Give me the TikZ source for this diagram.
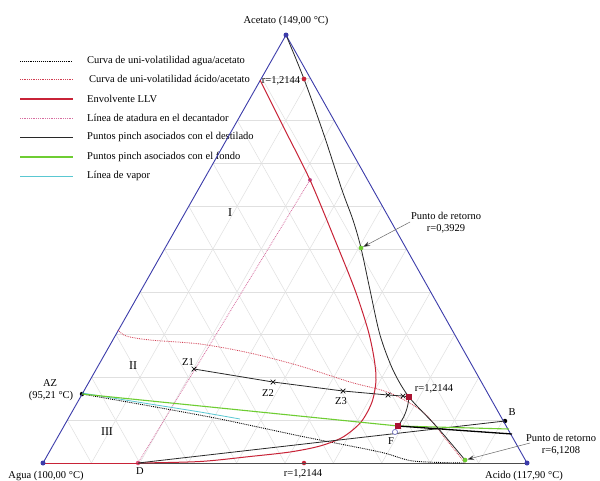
\documentclass[tikz,border=0pt]{standalone}
\usepackage{fontspec}
\setmainfont{Liberation Serif}
\usetikzlibrary{calc,arrows.meta,shapes.misc}
\definecolor{sideblue}{RGB}{60,60,170}
\definecolor{envred}{RGB}{200,35,55}
\definecolor{acidred}{RGB}{210,60,80}
\definecolor{tiepink}{RGB}{215,110,160}
\definecolor{pinchgreen}{RGB}{110,205,50}
\definecolor{vapcyan}{RGB}{90,200,210}
\definecolor{gridgray}{RGB}{224,224,224}
\definecolor{sqred}{RGB}{170,20,50}
\definecolor{darkline}{RGB}{40,40,40}
\begin{document}
\begin{tikzpicture}[x=1pt,y=-1pt,
  font=\fontsize{10.5}{12}\selectfont,
  gridline/.style={draw=gridgray,line width=0.5pt},
  sideline/.style={draw=sideblue,line width=0.9pt},
  baseline/.style={draw=black!70,line width=0.9pt},
  envelope/.style={draw=envred,line width=1pt},
  legenv/.style={draw=envred,line width=1.6pt},
  acidcurve/.style={draw=acidred,densely dotted,line width=0.8pt},
  watercurve/.style={draw=black,densely dotted,line width=0.9pt},
  tieline/.style={draw=tiepink,densely dotted,line width=0.8pt},
  distline/.style={draw=darkline,line width=0.8pt},
  thickline/.style={draw=black,line width=1.3pt},
  greenline/.style={draw=pinchgreen,line width=1.1pt},
  leggreen/.style={draw=pinchgreen,line width=1.5pt},
  vaporline/.style={draw=vapcyan,line width=0.8pt},
  vdot/.style={circle,fill=sideblue,inner sep=0pt,minimum size=5pt},
  pdot/.style={circle,fill=#1,inner sep=0pt,minimum size=4.5pt},
  xmark/.style={draw=black,cross out,line width=0.7pt,inner sep=0pt,minimum size=4pt},
  sqmark/.style={draw=sqred,fill=sqred,rectangle,inner sep=0pt,minimum size=5pt},
  fmark/.style={draw=sideblue!70,fill=white,circle,inner sep=0pt,minimum size=5pt,line width=0.6pt},
  lbl/.style={inner sep=0pt},
  retarrow/.style={draw=black!60,line width=0.5pt,-{Stealth[length=7pt,width=5pt,fill=black]}}
]
\useasboundingbox (0,0) rectangle (600,480);
\fill[white] (0,0) rectangle (600,480);

% vertices
\coordinate (Ag) at (43,463);
\coordinate (Ac) at (527,463);
\coordinate (At) at (286,35);

% grid
\foreach \k in {1,...,9} {
  \draw[gridline] ($(Ag)!\k/10!(At)$) -- ($(Ac)!\k/10!(At)$);
  \draw[gridline] ($(Ag)!\k/10!(Ac)$) -- ($(At)!\k/10!(Ac)$);
  \draw[gridline] ($(Ac)!\k/10!(Ag)$) -- ($(At)!\k/10!(Ag)$);
}

% legend
\foreach \y/\sty/\txt/\xt in {
  61/watercurve/{Curva de uni-volatilidad agua/acetato}/87,
  79/acidcurve/{Curva de uni-volatilidad ácido/acetato}/89,
  99/legenv/{Envolvente LLV}/87,
  118/tieline/{Línea de atadura en el decantador}/87,
  137/distline/{Puntos pinch asociados con el destilado}/87,
  157/leggreen/{Puntos pinch asociados con el fondo}/87,
  176/vaporline/{Línea de vapor}/87} {
  \draw[\sty] (20,\y) -- (73,\y);
  \node[lbl,anchor=west] at (\xt,\y) {\txt};
}

% named points
\node[pdot=tiepink!80!red] (D) at (138,463) {};
\node[pdot=black] (AZ) at (82,394) {};
\node[pdot=black] (B) at (505,421) {};
\node[pdot=envred] (rtop) at (304,79) {};
\node[pdot=envred] (rbot) at (304,463) {};
\node[pdot=tiepink!70!violet,minimum size=4pt] (P) at (310,180) {};
\node[fmark] (F) at (395,432) {};

% triangle
\draw[sideline] (Ag) -- (At) -- (Ac);
\draw[baseline] (D.center) -- (Ac);
\draw[envelope] (Ag) -- (D.center);

% tie line
\draw[tieline] (D.center) -- (P.center);

% uni-volatility acid/acetate
\draw[acidcurve] plot[smooth] coordinates {(118,330) (126,336) (150,340) (200,344) (250,353) (300,366) (350,382) (390,393) (423,412) (445,438) (465,463)};

% uni-volatility water/acetate
\draw[vaporline] plot[smooth] coordinates {(82,393) (150,404) (200,412) (240,419)};
\draw[watercurve] plot[smooth] coordinates {(82,394) (150,406) (220,419) (300,436) (380,452) (413,461) (465,463)};

% envelope
\draw[envelope] plot[smooth] coordinates {(138,463) (200,461.5) (250,456.5) (290,452) (320,446) (343,437) (361,422) (372,402) (376,380) (374,358) (368,330) (355,290) (335,240) (310,180) (285,130) (260,80)};

% balance line D-B
\draw[distline] (D.center) -- (B.center);

% green pinch (bottoms)
\node[sqmark] (s2) at (398,426) {};
\coordinate (gR) at (509,429);
\coordinate (kR) at (512,434);
\draw[greenline] (AZ.center) -- (s2.center) -- (gR);
\draw[thickline] (s2.center) -- (kR);

% distillate pinch curve
\node[pdot=pinchgreen] (g1) at (361,248) {};
\node[pdot=pinchgreen] (g2) at (465,460) {};
\node[sqmark] (s1) at (409,397) {};
\draw[distline] plot[smooth] coordinates {(286,35) (304,79) (324,135) (342,190) (353,220) (361,248) (370,290) (380,335) (393,370) (409,397) (437,427) (465,460)};
\node[pdot=pinchgreen] at (g1) {};
\node[pdot=pinchgreen] at (g2) {};
\node[pdot=envred] at (rtop) {};
\draw[distline] (s1.center) to[bend left=15] (s2.center);

% Z profile
\node[xmark] (z1) at (194,369) {};
\node[xmark] (z2) at (273,382) {};
\node[xmark] (z3) at (343,391) {};
\node[xmark] (z4) at (388,395) {};
\node[xmark] (z5) at (403,396) {};
\draw[distline] (z1.center) -- (z2.center) -- (z3.center) -- (z4.center) -- (z5.center) -- (s1.center);
\node[sqmark] at (s1) {};
\node[sqmark] at (s2) {};
\node[fmark] at (F) {};

% vertex dots
\node[vdot] (vAt) at (At) {};
\node[vdot] (vAg) at (Ag) {};
\node[vdot] (vAc) at (Ac) {};

% labels
\node[lbl] (tAt) at (286,21) {Acetato (149,00 °C)};
\node[lbl] (tAg) at (46,476) {Agua (100,00 °C)};
\node[lbl] (tAc) at (524,476) {Acido (117,90 °C)};
\node[lbl] (tAZ) at (50,383) {AZ};
\node[lbl] (tAZ2) at (51,396) {(95,21 °C)};
\node[lbl,font=\fontsize{12}{14}\selectfont] (tI) at (230,213) {I};
\node[lbl,font=\fontsize{12}{14}\selectfont] (tII) at (133,366) {II};
\node[lbl,font=\fontsize{12}{14}\selectfont] (tIII) at (107,432) {III};
\node[lbl] (tD) at (140,471) {D};
\node[lbl] (tF) at (391,441) {F};
\node[lbl] (tB) at (512,412) {B};
\node[lbl] (tZ1) at (188,362) {Z1};
\node[lbl] (tZ2) at (268,393) {Z2};
\node[lbl] (tZ3) at (341,401) {Z3};
\node[lbl] (tr1) at (281,81) {r=1,2144};
\node[lbl] (tr2) at (434,389) {r=1,2144};
\node[lbl] (tr3) at (303,474) {r=1,2144};
\node[lbl,align=center] (tret1) at (446,223) {Punto de retorno\\r=0,3929};
\node[lbl,align=center] (tret2) at (561,445) {Punto de retorno\\r=6,1208};
\coordinate (a1) at (410,222);
\coordinate (a2) at (530,443);
\draw[retarrow] (a1) -- (g1);
\draw[retarrow] (a2) -- (g2);
\end{tikzpicture}
\end{document}
